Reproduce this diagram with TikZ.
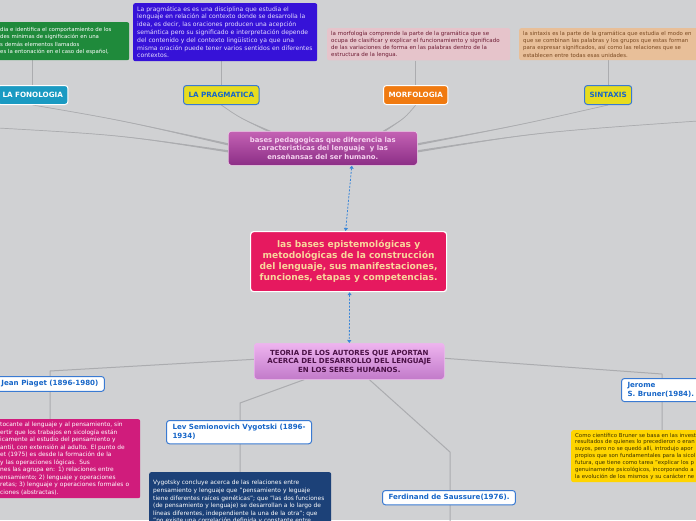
\documentclass[tikz,border=0pt]{standalone}
\usepackage{fontspec}
\setmainfont{DejaVu Sans}
\usetikzlibrary{arrows.meta,calc}
\pgfdeclarelayer{back}
\pgfdeclarelayer{edges}
\pgfsetlayers{back,edges,main}
\definecolor{bg}{HTML}{D0D1D3}
\definecolor{linegray}{HTML}{ABACAF}
\definecolor{cgreen}{HTML}{1F8A3B}
\definecolor{cviolet}{HTML}{3612D8}
\definecolor{cvioletT}{HTML}{E4DCFF}
\definecolor{cpink}{HTML}{E6C4CB}
\definecolor{cpinkT}{HTML}{6E1C34}
\definecolor{cpeach}{HTML}{E8BF99}
\definecolor{cpeachT}{HTML}{7A4A22}
\definecolor{cteal}{HTML}{1A9AC2}
\definecolor{cyellow}{HTML}{E7DC1F}
\definecolor{cblueT}{HTML}{1766C8}
\definecolor{cblueB}{HTML}{3A7AD2}
\definecolor{corange}{HTML}{F07A10}
\definecolor{cbasesA}{HTML}{C462B4}
\definecolor{cbasesB}{HTML}{8C2E86}
\definecolor{cbasesT}{HTML}{F6D2F0}
\definecolor{cmain}{HTML}{E6195F}
\definecolor{cmainT}{HTML}{F9D69C}
\definecolor{cteoA}{HTML}{EEB4EF}
\definecolor{cteoB}{HTML}{C27ACA}
\definecolor{cteoT}{HTML}{4A1046}
\definecolor{cnavy}{HTML}{1C4178}
\definecolor{cmag}{HTML}{D01C7C}
\definecolor{cgold}{HTML}{FFD500}
\definecolor{cgoldT}{HTML}{3A3000}
\definecolor{cdash}{HTML}{3A86D8}
\tikzset{
  conn/.style={draw=linegray, line width=1pt},
  txtbox/.style={rectangle, rounded corners=2pt, align=left, anchor=north west,
    inner xsep=4pt, inner ysep=2.5pt},
  tag/.style={rectangle, rounded corners=3pt, draw=white, line width=1pt,
    font=\bfseries\fontsize{7.2}{8}\selectfont, minimum height=19pt, inner xsep=5pt,
    anchor=north west},
  ytag/.style={tag, fill=cyellow, draw=cblueB, text=cblueT},
  author/.style={rectangle, fill=white, draw=cblueB, line width=1pt, rounded corners=3pt,
    text=cblueT, font=\bfseries\fontsize{7.1}{9}\selectfont, align=left, anchor=north west,
    inner xsep=6pt, inner ysep=4pt},
  dconn/.style={draw=cdash, dashed, dash pattern=on 2pt off 1.5pt, line width=0.8pt,
    {Triangle[length=3pt,width=4pt]}-{Triangle[length=3pt,width=4pt]}},
}
% tapered connector: start, control, end (end is thick)
\newcommand\taperline[3]{%
  \fill[linegray] (#1) .. controls (#2) .. ($(#3)+(0,-1.1)$) -- ($(#3)+(0,1.1)$) .. controls (#2) .. (#1) -- cycle;
  \draw[linegray, line width=0.7pt] (#1) .. controls (#2) .. (#3);}
\begin{document}
\begin{tikzpicture}[x=1pt,y=-1pt]
\begin{pgfonlayer}{back}
\fill[bg] (0,0) rectangle (696,520);
\end{pgfonlayer}
\useasboundingbox (0,0) rectangle (696,520);
\clip (0,0) rectangle (696,520);

% ---------- top description boxes ----------
\node[txtbox, fill=cgreen, text=white, text width=125pt, minimum height=38pt,
  font=\fontsize{5.4}{7.4}\selectfont] (fonD) at (-4,22)
  {dia e identifica el comportamiento de los\\des mínimas de significación en una\\s demás elementos llamados\\es la entonación en el caso del español,};
\node[txtbox, fill=cviolet, text=cvioletT, text width=176pt, minimum height=58pt,
  font=\fontsize{6.1}{7.8}\selectfont] (pragD) at (133,3)
  {La pragmática es es una disciplina que estudia el\\lenguaje en relación al contexto donde se desarrolla la\\idea, es decir, las oraciones producen una acepción\\semántica pero su significado e interpretación depende\\del contenido y del contexto lingüístico ya que una\\misma oración puede tener varios sentidos en diferentes\\contextos.};
\node[txtbox, fill=cpink, text=cpinkT, text width=175pt, minimum height=32pt,
  font=\fontsize{5.5}{7.2}\selectfont] (morD) at (327,28)
  {la morfología comprende la parte de la gramática que se\\ocupa de clasificar y explicar el funcionamiento y significado\\de las variaciones de forma en las palabras dentro de la\\estructura de la lengua.};
\node[txtbox, fill=cpeach, text=cpeachT, text width=185pt, minimum height=32pt,
  font=\fontsize{5.4}{7.2}\selectfont] (sinD) at (519,28)
  {la sintaxis es la parte de la gramática que estudia el modo en\\que se combinan las palabras y los grupos que estas forman\\para expresar significados, así como las relaciones que se\\establecen entre todas esas unidades.};

% ---------- tags ----------
\node[tag, fill=cteal, text=white] (fon) at (-3,85) {LA FONOLOGIA};
\node[ytag] (prag) at (183,85) {LA PRAGMATICA};
\node[tag, fill=corange, text=white] (mor) at (383,85) {MORFOLOGIA};
\node[ytag] (sin) at (584,85) {SINTAXIS};

% ---------- central nodes ----------
\node[rectangle, rounded corners=3pt, draw=white!70!cbasesA, line width=0.6pt,
  top color=cbasesA, bottom color=cbasesB, text=cbasesT, align=center,
  font=\bfseries\fontsize{6.9}{8.5}\selectfont, minimum width=189pt, minimum height=34pt,
  anchor=north west] (bases) at (228,131)
  {bases pedagogicas que diferencia las\\caracteristicas del lenguaje \ y las\\enseñansas del ser humano.};
\node[rectangle, rounded corners=3pt, draw=white, line width=1.2pt, fill=cmain,
  text=cmainT, align=center, font=\bfseries\fontsize{9.1}{11}\selectfont,
  minimum width=196pt, minimum height=60pt, anchor=north west] (main) at (250,231)
  {las bases epistemológicas y\\metodológicas de la construcción\\del lenguaje, sus manifestaciones,\\funciones, etapas y competencias.};
\node[rectangle, rounded corners=3pt, draw=cteoA, line width=0.6pt,
  top color=cteoA, bottom color=cteoB, text=cteoT, align=center,
  font=\bfseries\fontsize{7.05}{8.6}\selectfont, minimum width=190pt, minimum height=36pt,
  anchor=north west] (teo) at (254,343)
  {TEORIA DE LOS AUTORES QUE APORTAN\\ACERCA DEL DESARROLLO DEL LENGUAJE\\EN LOS SERES HUMANOS.};

% ---------- authors ----------
\node[author] (pia) at (-5,376) {Jean Piaget (1896-1980)};
\node[author] (vyg) at (166,420) {Lev Semionovich Vygotski (1896-\\1934)};
\node[author] (sau) at (382,490) {Ferdinand de Saussure(1976).};
\node[author] (bru) at (621,378) {Jerome\\S. Bruner(1984).};

\node[txtbox, fill=cmag, text=white, text width=136pt, minimum height=79pt,
  font=\fontsize{5.9}{7.5}\selectfont] (piaD) at (-4,419)
  {tocante al lenguaje y al pensamiento, sin\\ertir que los trabajos en sicología están\\icamente al estudio del pensamiento y\\antil, con extensión al adulto. El punto de\\et (1975) es desde la formación de la\\y las operaciones lógicas. Sus\\nes las agrupa en: 1) relaciones entre\\ensamiento; 2) lenguaje y operaciones\\retas; 3) lenguaje y operaciones formales o\\ciones (abstractas).};
\node[txtbox, fill=cnavy, text=white, text width=174pt, minimum height=60pt,
  font=\fontsize{5.9}{7.6}\selectfont] (vygD) at (149,472)
  {\mbox{Vygotsky concluye acerca de las relaciones entre}\\\mbox{pensamiento y lenguaje que "pensamiento y leguaje}\\\mbox{tiene diferentes raíces genéticas"; que "las dos funciones}\\\mbox{(de pensamiento y lenguaje) se desarrollan a lo largo de}\\\mbox{líneas diferentes, independiente la una de la otra"; que}\\\mbox{"no existe una correlación definida y constante entre}};
\node[txtbox, fill=cgold, text=cgoldT, text width=130pt, minimum height=50pt,
  font=\fontsize{5.4}{6.9}\selectfont] (bruD) at (571,430)
  {Como científico Bruner se basa en las invest\\resultados de quienes lo precedieron o eran\\suyos, pero no se quedó allí, introdujo apor\\propios que son fundamentales para la sicol\\futura, que tiene como tarea "explicar los p\\genuinamente psicológicos, incorporando a\\la evolución de los mismos y su carácter ne};

% ---------- free ends and bends ----------
\coordinate (leftin) at (-2,128);
\coordinate (rightin) at (698,121);
\coordinate (piaBend) at (50,371);
\coordinate (vygBend) at (240,403);
\coordinate (sauBend) at (450,452);
\coordinate (sauEnd) at (450,522);
\coordinate (bruBend) at (662,374);
\coordinate (bW1) at ($(bases.west)+(0,-4)$);
\coordinate (bW2) at ($(bases.west)+(0,3)$);
\coordinate (bE1) at ($(bases.east)+(0,-4)$);
\coordinate (bE2) at ($(bases.east)+(0,3)$);
\coordinate (bN1) at ($(bases.north)+(-52,1)$);
\coordinate (bN2) at ($(bases.north)+(60,1)$);

% ---------- connectors ----------
\begin{pgfonlayer}{edges}
\draw[conn] (fonD.south -| fon.north) -- (fon.north);
\draw[conn] (pragD.south -| prag.north) -- (prag.north);
\draw[conn] (morD.south -| mor.north) -- (mor.north);
\draw[conn] (sinD.south -| sin.north) -- (sin.north);

\taperline{fon.south}{120,120}{bW1}
\taperline{leftin}{120,135}{bW2}
\taperline{prag.south}{240,118}{bN1}
\taperline{mor.south}{405,118}{bN2}
\taperline{sin.south}{520,125}{bE1}
\taperline{rightin}{540,132}{bE2}

\draw[dconn] ([xshift=29pt]bases.south) -- ([xshift=-3pt]main.north);
\draw[dconn] ([xshift=1pt]main.south) -- ([xshift=0pt]teo.north);

\draw[conn] ([yshift=2pt]teo.west) -- (piaBend) -- (piaBend |- piaD.north);
\draw[conn] ([xshift=-45pt]teo.south) -- (vygBend) -- (vygBend |- vygD.north);
\draw[conn] ([xshift=20pt]teo.south) -- (sauBend) -- (sauEnd);
\draw[conn] ([yshift=3pt]teo.east) -- (bruBend) -- (bruBend |- bruD.north);
\end{pgfonlayer}
\end{tikzpicture}
\end{document}
